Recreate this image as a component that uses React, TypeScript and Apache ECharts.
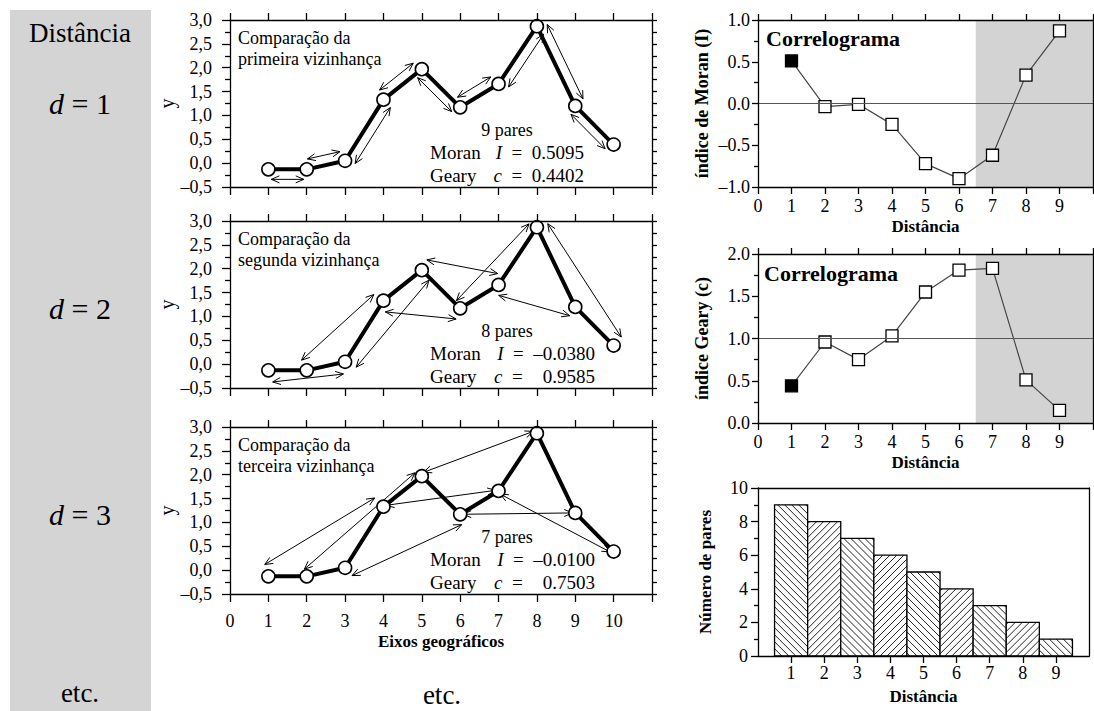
import React, { useEffect, useRef } from "react";
import * as echarts from "echarts";

// ---------- data ----------
const geoX = [1, 2, 3, 4, 5, 6, 7, 8, 9, 10];
const geoY = [-0.13, -0.13, 0.05, 1.33, 1.97, 1.17, 1.66, 2.87, 1.2, 0.39];

// pairs compared at each distance: [from, to, side offset]
const pairsD1 = [[1, 2, -10], [2, 3, 10], [3, 4, -10], [4, 5, 10], [5, 6, -9], [6, 7, 10], [7, 8, -10], [8, 9, 10], [9, 10, -9]];
const pairsD2 = [[1, 3, -12], [2, 4, 11], [3, 5, -12], [4, 6, -11], [5, 7, 11], [6, 8, 8], [7, 9, -10], [8, 10, 11]];
const pairsD3 = [[1, 4, 12], [2, 5, 7], [3, 6, -10], [4, 7, 1], [5, 8, 3], [6, 9, 0], [7, 10, -2]];

const distances = [1, 2, 3, 4, 5, 6, 7, 8, 9];
const moranI = [0.5095, -0.038, -0.01, -0.25, -0.72, -0.9, -0.62, 0.34, 0.87];
const gearyC = [0.4402, 0.9585, 0.7503, 1.03, 1.55, 1.81, 1.83, 0.51, 0.15];
const pairCounts = [9, 8, 7, 6, 5, 4, 3, 2, 1];
const shadeFrom = 6.5;
const shadeTo = 10;

const ordinals = ["primeira", "segunda", "terceira"];
const leftYTicks = { min: -0.5, max: 3, step: 0.5 };

const SERIF = "'Liberation Serif', 'Times New Roman', serif";
const BLACK = "#000";

const fmtComma = (v: number) => v.toFixed(1).replace(".", ",").replace("-", "–");
const fmtDot = (v: number) => v.toFixed(1).replace("-", "–");
const fmt4 = (v: number) => v.toFixed(4).replace("-", "–");

const lineStyle = { color: BLACK, width: 1.3 };

function arrowRender(params: any, api: any) {
  const p1 = api.coord([api.value(0), api.value(1)]);
  const p2 = api.coord([api.value(2), api.value(3)]);
  const off = api.value(4);
  const dx = p2[0] - p1[0];
  const dy = p2[1] - p1[1];
  const len = Math.hypot(dx, dy) || 1;
  const ux = dx / len, uy = dy / len;
  const nx = uy, ny = -ux;
  const trim = 3;
  const a = [p1[0] + nx * off + ux * trim, p1[1] + ny * off + uy * trim];
  const b = [p2[0] + nx * off - ux * trim, p2[1] + ny * off - uy * trim];
  const h = 8, w = 3.5;
  const st = { stroke: BLACK, lineWidth: 1, fill: "none" };
  return {
    type: "group",
    children: [
      { type: "line", shape: { x1: a[0], y1: a[1], x2: b[0], y2: b[1] }, style: st },
      {
        type: "polyline",
        shape: { points: [[b[0] - ux * h + nx * w, b[1] - uy * h + ny * w], b, [b[0] - ux * h - nx * w, b[1] - uy * h - ny * w]] },
        style: st,
      },
      {
        type: "polyline",
        shape: { points: [[a[0] + ux * h + nx * w, a[1] + uy * h + ny * w], a, [a[0] + ux * h - nx * w, a[1] + uy * h - ny * w]] },
        style: st,
      },
    ],
  };
}

function barRender(params: any, api: any) {
  const x = api.value(0), y = api.value(1);
  const p0 = api.coord([x - 0.5, y]);
  const p1 = api.coord([x + 0.5, 0]);
  const x0 = p0[0], y0 = p0[1], w = p1[0] - p0[0], h = p1[1] - p0[1];
  const children: any[] = [{ type: "rect", shape: { x: x0, y: y0, width: w, height: h }, style: { fill: "#fff" } }];
  const s = 7;
  const hs = { stroke: "#222", lineWidth: 1 };
  if (params.dataIndex % 2 === 0) {
    for (let k = y0 - (x0 + w) + 2; k < y0 + h - x0; k += s) {
      const xs = Math.max(x0, y0 - k), xe = Math.min(x0 + w, y0 + h - k);
      if (xe > xs) children.push({ type: "line", shape: { x1: xs, y1: xs + k, x2: xe, y2: xe + k }, style: hs });
    }
  } else {
    for (let k = x0 + y0 + 2; k < x0 + w + y0 + h; k += s) {
      const ys = Math.max(y0, k - x0 - w), ye = Math.min(y0 + h, k - x0);
      if (ye > ys) children.push({ type: "line", shape: { x1: k - ys, y1: ys, x2: k - ye, y2: ye }, style: hs });
    }
  }
  children.push({ type: "rect", shape: { x: x0, y: y0, width: w, height: h }, style: { fill: "none", stroke: BLACK, lineWidth: 1.3 } });
  return { type: "group", children };
}

function buildOption() {
  const grids = [
    { left: 230, top: 20, width: 422, height: 167 },
    { left: 230, top: 221, width: 422, height: 167 },
    { left: 230, top: 427, width: 422, height: 167 },
    { left: 758, top: 20, width: 335, height: 167 },
    { left: 758, top: 254, width: 335, height: 169 },
    { left: 758, top: 488, width: 331, height: 168 },
  ].map((g) => ({ ...g, containLabel: false, outerBoundsMode: "none" }));

  const labelBase = { fontFamily: SERIF, color: BLACK };
  const nameBold = { fontFamily: SERIF, color: BLACK, fontWeight: "bold", fontSize: 17 };
  const xAxes: any[] = [];
  const yAxes: any[] = [];

  // left panels
  for (let gi = 0; gi < 3; gi++) {
    xAxes.push({
      gridIndex: gi, type: "value", min: 0, max: 11, interval: 1, position: "bottom", z: 10,
      axisLine: { show: true, onZero: false, lineStyle },
      axisTick: { show: true, length: 8, lineStyle },
      axisLabel: { show: gi === 2, ...labelBase, fontSize: 18, margin: 18, formatter: (v: number) => (v > 10 ? "" : String(v)) },
      splitLine: { show: false },
      name: gi === 2 ? "Eixos geográficos" : "", nameLocation: "middle", nameGap: 39, nameTextStyle: nameBold,
    });
    xAxes.push({
      gridIndex: gi, type: "value", min: 0, max: 11, interval: 1, position: "top", z: 10,
      axisLine: { show: true, onZero: false, lineStyle },
      axisTick: { show: true, length: 7, lineStyle },
      axisLabel: { show: false }, splitLine: { show: false },
    });
    yAxes.push({
      gridIndex: gi, type: "value", min: leftYTicks.min, max: leftYTicks.max, interval: leftYTicks.step, position: "left", z: 10,
      axisLine: { show: true, onZero: false, lineStyle },
      axisTick: { show: true, length: 8, lineStyle },
      minorTick: { show: true, splitNumber: 2, length: 5, lineStyle },
      axisLabel: { ...labelBase, fontSize: 18, margin: 18, formatter: fmtComma },
      splitLine: { show: false }, minorSplitLine: { show: false },
      name: "y", nameLocation: "middle", nameGap: 52, nameTextStyle: { fontFamily: SERIF, color: BLACK, fontSize: 20 },
    });
    yAxes.push({
      gridIndex: gi, type: "value", min: leftYTicks.min, max: leftYTicks.max, interval: leftYTicks.step, position: "right", z: 10,
      axisLine: { show: true, onZero: false, lineStyle },
      axisTick: { show: true, length: 5, lineStyle },
      minorTick: { show: true, splitNumber: 2, length: 5, lineStyle },
      axisLabel: { show: false }, splitLine: { show: false },
    });
  }

  // correlograms
  const corr = [
    { gi: 3, min: -1, max: 1, name: "índice de Moran (I)" },
    { gi: 4, min: 0, max: 2, name: "índice Geary (c)" },
  ];
  for (const c of corr) {
    xAxes.push({
      gridIndex: c.gi, type: "value", min: 0, max: 10, interval: 1, position: "bottom", z: 10,
      axisLine: { show: true, onZero: false, lineStyle },
      axisTick: { show: true, length: 7, lineStyle },
      axisLabel: { ...labelBase, fontSize: 18, margin: 10, formatter: (v: number) => (v >= 10 ? "" : String(v)) },
      splitLine: { show: false },
      name: "Distância", nameLocation: "middle", nameGap: 31, nameTextStyle: nameBold,
    });
    xAxes.push({
      gridIndex: c.gi, type: "value", min: 0, max: 10, interval: 1, position: "top", z: 10,
      axisLine: { show: true, onZero: false, lineStyle },
      axisTick: { show: true, length: 6, lineStyle },
      axisLabel: { show: false }, splitLine: { show: false },
    });
    yAxes.push({
      gridIndex: c.gi, type: "value", min: c.min, max: c.max, interval: 0.5, position: "left", z: 10,
      axisLine: { show: true, onZero: false, lineStyle },
      axisTick: { show: true, length: 6, lineStyle },
      minorTick: { show: true, splitNumber: 2, length: 4, lineStyle },
      axisLabel: { ...labelBase, fontSize: 18, margin: 8, formatter: fmtDot },
      splitLine: { show: false }, minorSplitLine: { show: false },
      name: c.name, nameLocation: "middle", nameGap: 47, nameTextStyle: { ...nameBold, fontSize: 18 },
    });
    yAxes.push({
      gridIndex: c.gi, type: "value", min: c.min, max: c.max, interval: 0.5, position: "right", z: 10,
      axisLine: { show: true, onZero: false, lineStyle },
      axisTick: { show: false }, axisLabel: { show: false }, splitLine: { show: false },
    });
  }

  // bars
  xAxes.push({
    gridIndex: 5, type: "value", min: 0, max: 10, interval: 1, position: "bottom", z: 10,
    axisLine: { show: true, onZero: false, lineStyle },
    axisTick: { show: true, length: 7, lineStyle, customValues: distances },
    axisLabel: { ...labelBase, fontSize: 18, margin: 8, customValues: distances, formatter: (v: number) => (v <= 0 || v >= 10 ? "" : String(v)) },
    splitLine: { show: false },
    name: "Distância", nameLocation: "middle", nameGap: 32, nameTextStyle: nameBold,
  });
  xAxes.push({
    gridIndex: 5, type: "value", min: 0, max: 10, interval: 1, position: "top", z: 10,
    axisLine: { show: true, onZero: false, lineStyle },
    axisTick: { show: false }, axisLabel: { show: false }, splitLine: { show: false },
  });
  yAxes.push({
    gridIndex: 5, type: "value", min: 0, max: 10, interval: 2, position: "left", z: 10,
    axisLine: { show: true, onZero: false, lineStyle },
    axisTick: { show: true, length: 7, lineStyle },
    minorTick: { show: true, splitNumber: 2, length: 4, lineStyle },
    axisLabel: { ...labelBase, fontSize: 18, margin: 10 },
    splitLine: { show: false }, minorSplitLine: { show: false },
    name: "Número de pares", nameLocation: "middle", nameGap: 44, nameTextStyle: { ...nameBold, fontSize: 17 },
  });
  yAxes.push({
    gridIndex: 5, type: "value", min: 0, max: 10, interval: 2, position: "right", z: 10,
    axisLine: { show: true, onZero: false, lineStyle },
    axisTick: { show: false }, axisLabel: { show: false }, splitLine: { show: false },
  });

  const series: any[] = [];
  const pairSets = [pairsD1, pairsD2, pairsD3];
  for (let gi = 0; gi < 3; gi++) {
    series.push({
      type: "custom", xAxisIndex: 2 * gi, yAxisIndex: 2 * gi, z: 3, silent: true,
      renderItem: arrowRender,
      encode: { x: [0, 2], y: [1, 3] },
      data: pairSets[gi].map(([i, j, off]) => [geoX[i - 1], geoY[i - 1], geoX[j - 1], geoY[j - 1], off]),
    });
    series.push({
      type: "line", xAxisIndex: 2 * gi, yAxisIndex: 2 * gi, z: 4, silent: true,
      data: geoX.map((x, i) => [x, geoY[i]]),
      symbol: "circle", symbolSize: 13, showSymbol: true,
      lineStyle: { color: BLACK, width: 4 },
      itemStyle: { color: "#fff", borderColor: BLACK, borderWidth: 1.6 },
    });
  }

  const corrData = [moranI, gearyC];
  const refLines = [0, 1];
  corrData.forEach((vals, k) => {
    const ax = 6 + 2 * k;
    series.push({
      type: "line", xAxisIndex: ax, yAxisIndex: ax, z: 1, silent: true, data: [],
      markArea: { silent: true, itemStyle: { color: "#d3d3d3" }, data: [[{ xAxis: shadeFrom }, { xAxis: shadeTo }]] },
      markLine: {
        silent: true, symbol: "none", label: { show: false },
        lineStyle: { color: "#555", width: 1, type: "solid" },
        data: [{ yAxis: refLines[k] }],
      },
    });
    series.push({
      type: "line", xAxisIndex: ax, yAxisIndex: ax, z: 3, silent: true,
      data: distances.map((d, i) => ({ value: [d, vals[i]], itemStyle: i === 0 ? { color: BLACK } : undefined })),
      symbol: "rect", symbolSize: 12, showSymbol: true,
      lineStyle: { color: "#444", width: 1.2 },
      itemStyle: { color: "#fff", borderColor: BLACK, borderWidth: 1.3 },
    });
  });

  series.push({
    type: "custom", xAxisIndex: 10, yAxisIndex: 10, z: 3, silent: true,
    renderItem: barRender,
    encode: { x: 0, y: 1 },
    data: distances.map((d, i) => [d, pairCounts[i]]),
  });

  // graphic texts
  const t = (x: number, y: number, text: string, size: number, extra: any = {}) => ({
    type: "text", x, y, silent: true,
    style: { text, fontFamily: SERIF, fontSize: size, fill: BLACK, align: "left", verticalAlign: "middle", ...extra },
  });
  const italic = (size: number) => ({ i: { fontStyle: "italic", fontFamily: SERIF, fontSize: size, fill: BLACK } });

  const graphics: any[] = [
    { type: "rect", z: -1, silent: true, shape: { x: 10, y: 10, width: 141, height: 701 }, style: { fill: "#d4d4d4" } },
    t(80, 33, "Distância", 27, { align: "center" }),
    t(80, 103, "{i|d} = 1", 30, { align: "center", rich: italic(30) }),
    t(80, 308, "{i|d} = 2", 30, { align: "center", rich: italic(30) }),
    t(80, 514, "{i|d} = 3", 30, { align: "center", rich: italic(30) }),
    t(80, 693, "etc.", 27, { align: "center" }),
    t(442, 695, "etc.", 27, { align: "center" }),
    t(766, 38, "Correlograma", 22, { fontWeight: "bold" }),
    t(764, 273, "Correlograma", 22, { fontWeight: "bold" }),
  ];
  const dys = [0, 201, 407];
  const valueEnd = [584, 595, 595];
  for (let gi = 0; gi < 3; gi++) {
    const dy = dys[gi];
    graphics.push(t(238, 38 + dy, "Comparação da", 18));
    graphics.push(t(238, 59 + dy, `${ordinals[gi]} vizinhança`, 18));
    graphics.push(t(507, 130 + dy, `${pairCounts[gi]} pares`, 18, { align: "center" }));
    graphics.push(t(430, 152 + dy, "Moran", 19));
    graphics.push(t(430, 175 + dy, "Geary", 19));
    const mI = fmt4(moranI[gi]);
    const gC = fmt4(gearyC[gi]);
    graphics.push(t(valueEnd[gi], 152 + dy, `{i|I}  =  ${mI}`, 19, { align: "right", rich: italic(19) }));
    if (gi === 0) {
      graphics.push(t(valueEnd[gi], 175 + dy, `{i|c}  =  ${gC}`, 19, { align: "right", rich: italic(19) }));
    } else {
      graphics.push(t(494, 175 + dy, "{i|c}  =", 19, { rich: italic(19) }));
      graphics.push(t(valueEnd[gi], 175 + dy, gC, 19, { align: "right" }));
    }
  }

  return {
    animation: false,
    backgroundColor: "#fff",
    grid: grids,
    xAxis: xAxes,
    yAxis: yAxes,
    series,
    graphic: { elements: graphics },
  };
}

export default function App() {
  const ref = useRef<HTMLDivElement>(null);
  useEffect(() => {
    if (!ref.current) return;
    const chart = echarts.init(ref.current, undefined, { renderer: "svg" });
    chart.setOption(buildOption() as any);
    return () => chart.dispose();
  }, []);
  return <div ref={ref} style={{ position: "absolute", left: 0, top: 0, width: 1094, height: 711 }} />;
}
